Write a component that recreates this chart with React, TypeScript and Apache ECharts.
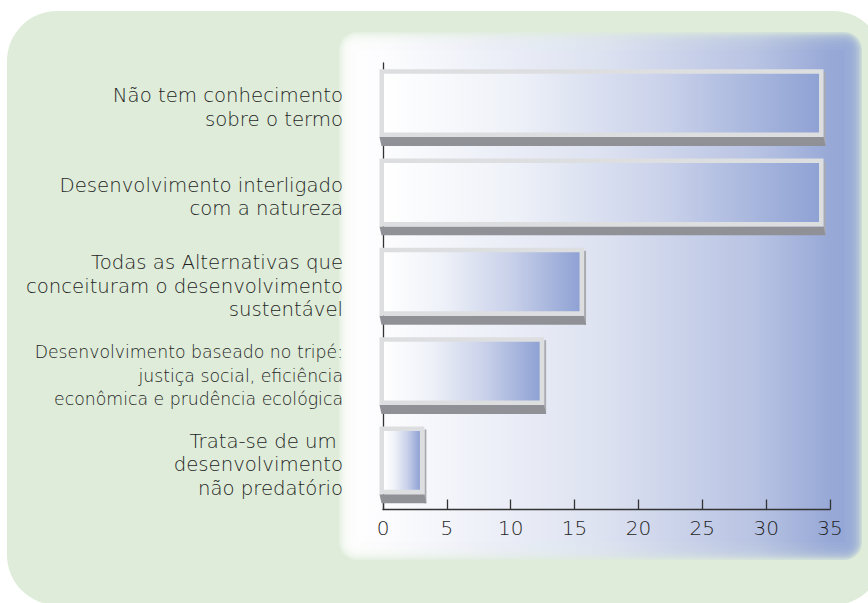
import React, { useEffect, useRef } from "react";
import * as echarts from "echarts";

const categories = [
  "Não tem conhecimento\nsobre o termo",
  "Desenvolvimento interligado\ncom a natureza",
  "Todas as Alternativas que\nconceituram o desenvolvimento\nsustentável",
  "Desenvolvimento baseado no tripé:\njustiça social, eficiência\neconômica e prudência ecológica",
  "Trata-se de um \ndesenvolvimento\nnão predatório",
];
const values = [34.375, 34.375, 15.625, 12.5, 3.125];
const xTicks = [0, 5, 10, 15, 20, 25, 30, 35];

const FONT = "DejaVu Sans";
const TEXT = "#1f1f1f";

export default function App() {
  const ref = useRef<HTMLDivElement>(null);
  useEffect(() => {
    if (!ref.current) return;
    const chart = echarts.init(ref.current, null, { renderer: "svg" });

    const bgGrad = () =>
      new echarts.graphic.LinearGradient(
        345, 0, 860, 0,
        [
          { offset: 0, color: "#ffffff" },
          { offset: 0.08, color: "#fcfcfe" },
          { offset: 0.5, color: "#dde2f1" },
          { offset: 0.8, color: "#b8c3e3" },
          { offset: 0.94, color: "#98a9d7" },
          { offset: 1, color: "#92a5d5" },
        ],
        true
      );
    const inner = { x: 357, y: 50, w: 487, h: 492 };
    const plate: any[] = [];
    const layers = 12;
    for (let k = layers; k >= 1; k--) {
      const e = k * 1.5;
      plate.push({
        type: "rect",
        z: -9,
        silent: true,
        shape: { x: inner.x - e, y: inner.y - e, width: inner.w + 2 * e, height: inner.h + 2 * e, r: e },
        style: { fill: bgGrad(), opacity: 0.25 },
      });
    }
    plate.push({
      type: "rect",
      z: -8,
      silent: true,
      shape: { x: inner.x, y: inner.y, width: inner.w, height: inner.h },
      style: { fill: bgGrad() },
    });

    const option: any = {
      animation: false,
      grid: { left: 383, right: 38, top: 63, bottom: 93.5, containLabel: false },
      graphic: {
        elements: [
          {
            type: "rect",
            z: -10,
            silent: true,
            shape: { x: 7, y: 11, width: 876, height: 594, r: 50 },
            style: { fill: "#deecd9" },
          },
          ...plate,
        ],
      },
      xAxis: {
        type: "value",
        min: xTicks[0],
        max: xTicks[xTicks.length - 1],
        interval: 5,
        splitLine: { show: false },
        axisLine: { show: true, lineStyle: { color: "#333", width: 1.3 } },
        axisTick: { show: true, inside: true, length: 10, lineStyle: { color: "#333", width: 1.3 } },
        axisLabel: { color: TEXT, fontSize: 20, fontFamily: FONT, fontWeight: 300, margin: 8 },
      },
      yAxis: {
        type: "category",
        inverse: true,
        data: categories,
        axisLine: { show: true, lineStyle: { color: "#333", width: 1.3 } },
        axisTick: { show: false },
        axisLabel: {
          color: TEXT,
          fontSize: 19.7,
          fontFamily: FONT,
          fontWeight: 300,
          lineHeight: 23.5,
          margin: 40,
          align: "right",
          formatter: (v: string, i: number) => {
            if (i === 3) {
              return v
                .split("\n")
                .map((l) => "{s|" + l + "}")
                .join("\n");
            }
            return v;
          },
          rich: {
            s: { fontSize: 17.3, fontFamily: FONT, fontWeight: 300, color: TEXT, lineHeight: 23.5 },
          },
        },
      },
      series: [
        {
          type: "custom",
          data: values.map((v, i) => [v, i]),
          encode: { x: 0, y: 1 },
          renderItem: (params: any, api: any) => {
            const v = api.value(0);
            const idx = api.value(1);
            const p0 = api.coord([0, idx]);
            const p1 = api.coord([v, idx]);
            const band = api.size([0, 1])[1];
            const k = band / 89.5;
            const cy = p0[1];
            const L = p0[0] - 3.5;
            const R = p1[0] + 1.5;
            const T = cy - 38.5 * k;
            const B = cy + 29.5 * k;
            const dx = 2;
            const dy = 9 * k;
            const bw = 4.5;
            return {
              type: "group",
              children: [
                {
                  type: "polygon",
                  shape: { points: [[R, T + 3], [R + dx, T + 3], [R + dx, B + dy], [R, B + dy]] },
                  style: { fill: "#a9aaae" },
                },
                {
                  type: "polygon",
                  shape: { points: [[L, B], [R, B], [R + dx, B + dy], [L + dx, B + dy]] },
                  style: { fill: "#909196" },
                },
                {
                  type: "rect",
                  shape: { x: L, y: T, width: R - L, height: B - T },
                  style: { fill: "#dddee0" },
                },
                {
                  type: "rect",
                  shape: { x: L + bw, y: T + bw, width: R - L - 2 * bw, height: B - T - 2 * bw },
                  style: {
                    fill: new echarts.graphic.LinearGradient(0, 0, 1, 0, [
                      { offset: 0, color: "#ffffff" },
                      { offset: 0.3, color: "#eef1f8" },
                      { offset: 0.65, color: "#c9d1ea" },
                      { offset: 1, color: "#8fa2d4" },
                    ]),
                  },
                },
              ],
            };
          },
        },
      ],
    };
    chart.setOption(option);
    return () => chart.dispose();
  }, []);
  return (
    <div
      ref={ref}
      style={{ position: "fixed", left: 0, top: 0, width: 868, height: 603, background: "#ffffff" }}
    />
  );
}
